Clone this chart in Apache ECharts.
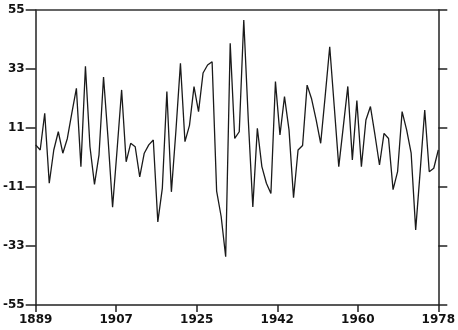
<!DOCTYPE html>
<html>
<head>
<meta charset="utf-8">
<script src="https://cdn.jsdelivr.net/npm/echarts@6/dist/echarts.min.js"></script>
<style>
html,body{margin:0;padding:0;background:#fff;}
#chart{width:458px;height:330px;}
</style>
</head>
<body>
<div id="chart"></div>
<script>
var firstYear = 1889;
var lastYear = 1978;
var values = [
  4.7, 2.8, 16.5, -9.6, 2.8, 9.6, 1.6, 7.1, 16.6, 25.8,
  -3.4, 34.0, 4.0, -10.0, 1.0, 30.0, 7.0, -18.5, 3.0, 25.2,
  -1.6, 5.3, 4.0, -7.2, 1.6, 4.7, 6.5, -24.0, -11.4, 24.6,
  -12.8, 10.0, 35.1, 5.9, 12.0, 26.4, 17.1, 31.5, 34.5, 35.7,
  -12.5, -22.0, -37.0, 42.6, 7.1, 9.6, 51.3, 14.0, -18.4, 10.9,
  -3.4, -9.6, -13.4, 28.3, 8.4, 22.7, 10.3, -15.0, 2.8, 4.5,
  27.0, 21.8, 14.0, 5.3, 23.0, 41.3, 19.0, -3.4, 11.5, 26.5,
  -0.9, 21.2, -3.4, 14.0, 19.0, 8.4, -2.8, 9.0, 7.1, -12.0,
  -5.3, 17.1, 10.3, 1.6, -27.0, -5.0, 17.7, -5.3, -4.0, 2.8
];
var xTickPositions = [1889, 1906.8, 1924.6, 1942.4, 1960.2, 1978];
var xTickLabels = ['1889', '1907', '1925', '1942', '1960', '1978'];
var yTicks = [-55, -33, -11, 11, 33, 55];

var years = [];
for (var y = firstYear; y <= lastYear; y++) years.push(y);
var seriesData = years.map(function (yr, i) { return [yr, values[i]]; });

var labelFont = {
  fontFamily: 'DejaVu Sans',
  fontWeight: 'bold',
  fontSize: 12,
  color: '#111'
};
var axisLineStyle = { color: '#222', width: 1.5 };

var chart = echarts.init(document.getElementById('chart'), null, { renderer: 'canvas' });
chart.setOption({
  animation: false,
  backgroundColor: '#fff',
  grid: { left: 32, right: 15, top: 10, bottom: 25, containLabel: false },
  xAxis: [{
    type: 'value',
    position: 'bottom',
    min: firstYear,
    max: lastYear,
    splitLine: { show: false },
    axisLine: { show: true, onZero: false, lineStyle: axisLineStyle },
    axisTick: { show: true, inside: false, length: 7, lineStyle: axisLineStyle, customValues: xTickPositions },
    axisLabel: Object.assign({
      margin: 9,
      customValues: xTickPositions,
      formatter: function (v) {
        var idx = xTickPositions.indexOf(v);
        return idx >= 0 ? xTickLabels[idx] : '';
      }
    }, labelFont)
  }, {
    type: 'value',
    position: 'top',
    min: firstYear,
    max: lastYear,
    splitLine: { show: false },
    axisLine: { show: true, onZero: false, lineStyle: { color: '#333', width: 1.5 } },
    axisTick: { show: false },
    axisLabel: { show: false }
  }],
  yAxis: [{
    type: 'value',
    position: 'left',
    min: -55,
    max: 55,
    splitLine: { show: false },
    axisLine: { show: true, onZero: false, lineStyle: axisLineStyle },
    axisTick: { show: true, inside: false, length: 10, lineStyle: axisLineStyle, customValues: yTicks },
    axisLabel: Object.assign({ margin: 11, customValues: yTicks }, labelFont)
  }, {
    type: 'value',
    position: 'right',
    min: -55,
    max: 55,
    splitLine: { show: false },
    axisLine: { show: true, onZero: false, lineStyle: axisLineStyle },
    axisTick: { show: true, inside: false, length: 9, lineStyle: axisLineStyle, customValues: yTicks },
    axisLabel: { show: false }
  }],
  series: [{
    type: 'line',
    data: seriesData,
    showSymbol: false,
    symbol: 'none',
    smooth: false,
    lineStyle: { color: '#1a1a1a', width: 1.3 }
  }]
});
</script>
</body>
</html>
